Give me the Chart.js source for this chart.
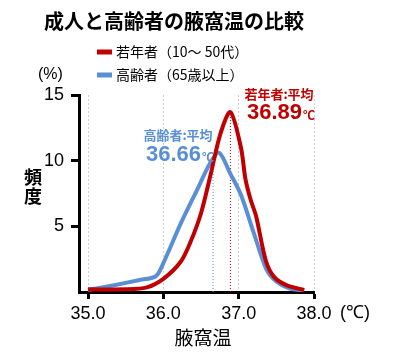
<!DOCTYPE html>
<html>
<head>
<meta charset="utf-8">
<script src="https://cdn.jsdelivr.net/npm/chart.js@4/dist/chart.umd.min.js"></script>
<style>
  html, body { margin: 0; padding: 0; background: #fff; }
  #wrap { width: 393px; height: 358px; position: relative; }
</style>
</head>
<body>
<div id="wrap"><canvas id="myChart"></canvas></div>
<script>
// data
const youngTemp = [35.0, 35.5, 35.78, 36.0, 36.23, 36.36, 36.5, 36.63, 36.76, 36.89, 37.03, 37.09, 37.16, 37.23, 37.36, 37.47, 37.64, 37.87];
const youngFreq = [0.2, 0.2, 0.35, 1.0, 2.3, 3.8, 6.0, 9.0, 12.1, 13.7, 11.0, 8.6, 7.0, 5.8, 2.4, 1.15, 0.5, 0.15];
const elderTemp = [35.0, 35.33, 35.67, 35.9, 36.0, 36.23, 36.45, 36.62, 36.74, 36.89, 37.03, 37.2, 37.37, 37.5, 37.67, 37.87];
const elderFreq = [0.15, 0.5, 0.9, 1.2, 2.2, 5.2, 7.8, 9.8, 10.6, 9.0, 7.4, 4.5, 1.7, 0.8, 0.28, 0.1];
const youngMean = 36.89, youngMeanTop = 13.6;
const elderMean = 36.66, elderMeanTop = 10.3;
const xTicks = [35, 36, 37, 38];
const yTicks = [5, 10, 15];

const RED = "rgb(192, 0, 0)";
const BLUE = "rgb(88, 143, 214)";
const JP = "'Noto Sans CJK JP', sans-serif";
const NUM = "'Liberation Sans', Arial, sans-serif";

function toPoints(xs, ys) {
  return xs.map(function (x, i) { return { x: x, y: ys[i] }; });
}

// texts around the plot
const textPlugin = {
  id: "texts",
  afterDraw: function (chart) {
    const ctx = chart.ctx;
    ctx.save();
    ctx.textBaseline = "middle";

    // title
    ctx.fillStyle = "#000";
    ctx.textAlign = "center";
    ctx.font = "bold 20px " + JP;
    ctx.fillText("成人と高齢者の腋窩温の比較", 174, 21);

    // legend
    ctx.lineWidth = 5;
    ctx.strokeStyle = RED;
    ctx.beginPath(); ctx.moveTo(97, 52); ctx.lineTo(112, 52); ctx.stroke();
    ctx.strokeStyle = BLUE;
    ctx.beginPath(); ctx.moveTo(97, 75); ctx.lineTo(112, 75); ctx.stroke();
    ctx.textAlign = "left";
    ctx.font = "14px " + JP;
    ctx.fillText("若年者（10～ 50代）", 116, 52);
    ctx.fillText("高齢者（65歳以上）", 116, 75);

    // units
    ctx.font = "16px " + NUM;
    ctx.fillText("(%)", 38, 75);
    ctx.font = "18px " + NUM;
    ctx.fillText("(℃)", 340, 313);

    // axis titles
    ctx.textAlign = "center";
    ctx.font = "bold 18px " + JP;
    ctx.fillText("頻", 33, 177);
    ctx.fillText("度", 33, 196);
    ctx.font = "19px " + JP;
    ctx.fillText("腋窩温", 203, 338);

    // mean labels
    ctx.fillStyle = BLUE;
    ctx.font = "bold 13px " + JP;
    ctx.fillText("高齢者:平均", 178, 135);
    ctx.textAlign = "left";
    ctx.font = "bold 22px " + NUM;
    ctx.fillText("36.66", 146, 155);
    let w = ctx.measureText("36.66").width;
    ctx.font = "bold 12px " + JP;
    ctx.fillText("℃", 147 + w, 157);

    ctx.fillStyle = RED;
    ctx.textAlign = "center";
    ctx.font = "bold 13px " + JP;
    ctx.fillText("若年者:平均", 279, 94);
    ctx.textAlign = "left";
    ctx.font = "bold 22px " + NUM;
    ctx.fillText("36.89", 247, 113);
    w = ctx.measureText("36.89").width;
    ctx.font = "bold 12px " + JP;
    ctx.fillText("℃", 248 + w, 115);

    ctx.restore();
  }
};

const ctx = document.getElementById("myChart").getContext("2d");
const chart = new Chart(ctx, {
  type: "line",
  data: {
    datasets: [
      {
        label: "若年者（10～50代）",
        data: toPoints(youngTemp, youngFreq),
        borderColor: RED,
        borderWidth: 4,
        pointRadius: 0,
        tension: 0.3,
        fill: false,
        order: 1
      },
      {
        label: "高齢者（65歳以上）",
        data: toPoints(elderTemp, elderFreq),
        borderColor: BLUE,
        borderWidth: 4,
        pointRadius: 0,
        tension: 0.3,
        fill: false,
        order: 2
      },
      {
        label: "若年者平均",
        data: [{ x: youngMean, y: 0 }, { x: youngMean, y: youngMeanTop }],
        borderColor: RED,
        borderWidth: 1,
        borderDash: [1, 2],
        pointRadius: 0,
        order: 3
      },
      {
        label: "高齢者平均",
        data: [{ x: elderMean, y: 0 }, { x: elderMean, y: elderMeanTop }],
        borderColor: BLUE,
        borderWidth: 1,
        borderDash: [1, 2],
        pointRadius: 0,
        order: 3
      }
    ]
  },
  options: {
    responsive: true,
    maintainAspectRatio: false,
    animation: false,
    layout: { padding: { top: 95, right: 79, left: 0, bottom: 0 } },
    plugins: {
      legend: { display: false },
      title: { display: false },
      tooltip: { enabled: false }
    },
    scales: {
      x: {
        type: "linear",
        min: 34.88,
        max: 38.0,
        afterBuildTicks: function (scale) {
          scale.ticks = xTicks.map(function (v) { return { value: v }; });
        },
        afterFit: function (scale) { scale.height = 66; },
        ticks: {
          color: "#000",
          font: { family: NUM, size: 18 },
          padding: 4,
          maxRotation: 0,
          callback: function (v) { return v.toFixed(1); }
        },
        grid: {
          color: "#cfcfcf",
          lineWidth: 1,
          tickColor: "#000",
          tickWidth: 3,
          tickLength: 7,
          tickBorderDash: []
        },
        border: { color: "#000", width: 3, dash: [2, 2] }
      },
      y: {
        min: 0,
        max: 15,
        afterBuildTicks: function (scale) {
          scale.ticks = yTicks.map(function (v) { return { value: v }; });
        },
        afterFit: function (scale) { scale.width = 79; },
        ticks: {
          color: "#000",
          font: { family: NUM, size: 18 },
          padding: 7
        },
        grid: {
          drawOnChartArea: false,
          tickColor: "#000",
          tickWidth: 3,
          tickLength: 8
        },
        border: { color: "#000", width: 3 }
      }
    }
  },
  plugins: [textPlugin]
});
</script>
</body>
</html>
